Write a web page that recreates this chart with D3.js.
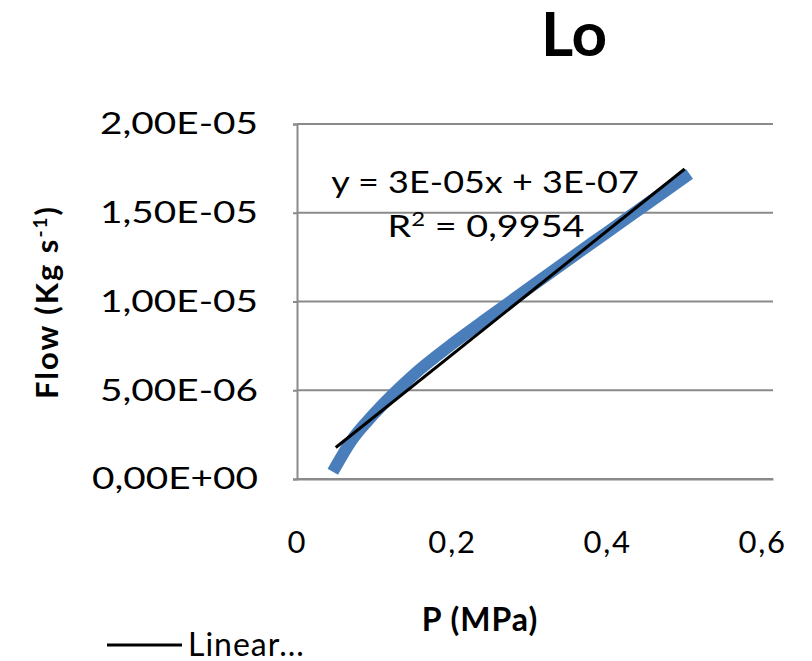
<!DOCTYPE html>
<html>
<head>
<meta charset="utf-8">
<script src="https://cdn.jsdelivr.net/npm/d3@7"></script>
<style>
  body { margin: 0; background: #fff; }
  text { font-family: Lato, "Open Sans", sans-serif; fill: #000; }
</style>
</head>
<body>
<div id="chart"></div>
<script>
// Chart data
const pressure = [0.05, 0.07, 0.1, 0.15, 0.2, 0.25, 0.3, 0.35, 0.4, 0.45, 0.5];
const flow = [0.7e-6, 2.15e-6, 3.7e-6, 5.85e-6, 7.6e-6, 9.2e-6, 1.078e-5, 1.235e-5, 1.39e-5, 1.545e-5, 1.70e-5];
const xTicks = [0, 0.2, 0.4, 0.6];
const yTicks = [0, 5e-6, 1e-5, 1.5e-5, 2e-5];
const equationText = "y = 3E-05x + 3E-07";
const r2Text = " = 0,9954";

const W = 812, H = 661;
const margin = { top: 124, right: 39, bottom: 182, left: 297 };
const width = W - margin.left - margin.right;
const height = H - margin.top - margin.bottom;

const svg = d3.select("#chart")
    .append("svg")
    .attr("width", W)
    .attr("height", H);

const g = svg.append("g")
    .attr("transform", `translate(${margin.left},${margin.top})`);

// Scales (x axis runs a little past 0.6 like in the source)
const x = d3.scaleLinear().domain([0, 0.614]).range([0, width]);
const y = d3.scaleLinear().domain([0, 2e-5]).range([height, 0]);

// Excel-like number formats
const fmtX = d => d3.format("")(d).replace(".", ",");
const fmtY = d => {
    if (d === 0) return "0,00E+00";
    const exp = Math.floor(Math.log10(Math.abs(d)));
    const mant = d / Math.pow(10, exp);
    const sign = exp < 0 ? "-" : "+";
    return mant.toFixed(2).replace(".", ",") + "E" + sign + String(Math.abs(exp)).padStart(2, "0");
};

// the source font is wider than Lato, so stretch texts horizontally
function wideText(parent, px, py, k) {
    return parent.append("text")
        .attr("transform", `translate(${px},${py}) scale(${k},1)`);
}

// Gridlines
g.append("g")
    .selectAll("line")
    .data(yTicks)
    .enter()
    .append("line")
    .attr("x1", 0)
    .attr("x2", width)
    .attr("y1", d => y(d))
    .attr("y2", d => y(d))
    .attr("stroke", "#8a8a8a")
    .attr("stroke-width", 2);

// Y axis
const yK = 1.25;
const yAxis = g.append("g")
    .call(d3.axisLeft(y).tickValues(yTicks).tickFormat(fmtY).tickSize(4).tickPadding(35));
yAxis.select(".domain").attr("stroke", "#8a8a8a").attr("stroke-width", 2);
yAxis.selectAll(".tick line").attr("stroke", "#8a8a8a").attr("stroke-width", 2);
yAxis.selectAll(".tick text")
    .attr("font-family", "Lato, sans-serif")
    .attr("font-size", 31)
    .attr("fill", "#000")
    .attr("x", -39 / yK)
    .attr("transform", `scale(${yK},1)`);

// X axis
const xAxis = g.append("g")
    .attr("transform", `translate(0,${height})`)
    .call(d3.axisBottom(x).tickValues(xTicks).tickFormat(fmtX).tickSize(0).tickPadding(52));
xAxis.select(".domain").attr("stroke", "#8a8a8a").attr("stroke-width", 2);
xAxis.selectAll(".tick text")
    .attr("font-family", "Lato, sans-serif")
    .attr("font-size", 31)
    .attr("letter-spacing", 1.8)
    .attr("fill", "#000");

// Data series
const points = pressure.map((p, i) => ({ p, f: flow[i] }));
const line = d3.line().x(d => x(d.p)).y(d => y(d.f)).curve(d3.curveMonotoneX);

g.append("path")
    .datum(points)
    .attr("d", line)
    .attr("fill", "none")
    .attr("stroke", "#4a7ebb")
    .attr("stroke-width", 12)
    .attr("stroke-linejoin", "round")
    .attr("stroke-linecap", "square");

// Linear trendline (least squares)
const mx = d3.mean(pressure), my = d3.mean(flow);
const slope = d3.sum(points, d => (d.p - mx) * (d.f - my)) / d3.sum(pressure, p => (p - mx) ** 2);
const intercept = my - slope * mx;
const xExt = d3.extent(pressure);

g.append("line")
    .attr("x1", x(xExt[0]))
    .attr("x2", x(xExt[1]))
    .attr("y1", y(slope * xExt[0] + intercept))
    .attr("y2", y(slope * xExt[1] + intercept))
    .attr("stroke", "#000")
    .attr("stroke-width", 3);

// Trendline label
wideText(svg, 485, 193, 1.2)
    .attr("text-anchor", "middle")
    .attr("font-size", 30)
    .text(equationText);

const r2 = wideText(svg, 486, 237, 1.26)
    .attr("text-anchor", "middle")
    .attr("font-size", 30);
r2.append("tspan").text("R");
r2.append("tspan").attr("font-size", 19).attr("dy", -11).text("2");
r2.append("tspan").attr("dy", 11).text(r2Text);

// Title
svg.append("text")
    .attr("x", 574)
    .attr("y", 56)
    .attr("text-anchor", "middle")
    .attr("font-size", 62)
    .attr("font-weight", "bold")
    .text("Lo");

// Axis titles
svg.append("text")
    .attr("x", 480)
    .attr("y", 631)
    .attr("text-anchor", "middle")
    .attr("font-size", 32)
    .attr("font-weight", "bold")
    .attr("letter-spacing", 1)
    .text("P (MPa)");

const yTitle = svg.append("text")
    .attr("transform", "translate(58,302) rotate(-90)")
    .attr("text-anchor", "middle")
    .attr("font-size", 31)
    .attr("font-weight", "bold")
    .attr("letter-spacing", 2);
yTitle.append("tspan").text("Flow (Kg s");
yTitle.append("tspan").attr("font-size", 19).attr("dy", -11).text("-1");
yTitle.append("tspan").attr("dy", 11).text(")");

// Legend
svg.append("line")
    .attr("x1", 107)
    .attr("x2", 182)
    .attr("y1", 645)
    .attr("y2", 645)
    .attr("stroke", "#000")
    .attr("stroke-width", 3);

svg.append("text")
    .attr("x", 188)
    .attr("y", 656)
    .attr("font-size", 32)
    .attr("letter-spacing", 1)
    .text("Linear...");
</script>
</body>
</html>
